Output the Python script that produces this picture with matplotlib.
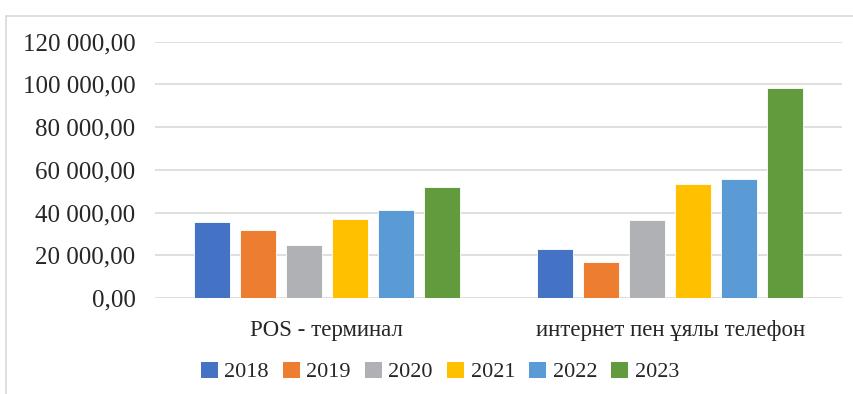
import matplotlib
matplotlib.use("Agg")
import matplotlib.pyplot as plt
from matplotlib.lines import Line2D
from matplotlib.patches import Patch
from matplotlib.ticker import FuncFormatter
import numpy as np

categories = ["POS - терминал", "интернет пен ұялы телефон"]
years = ["2018", "2019", "2020", "2021", "2022", "2023"]
values = {
    "2018": [35500, 23000],
    "2019": [31900, 17000],
    "2020": [24800, 36400],
    "2021": [37100, 53100],
    "2022": [41000, 55700],
    "2023": [52000, 98100],
}
colors = ["#4472C4", "#ED7D31", "#B0B1B4", "#FFC000", "#5B9BD5", "#629B3E"]
yticks = [0, 20000, 40000, 60000, 80000, 100000, 120000]

plt.rcParams["font.family"] = ["Liberation Serif", "DejaVu Serif"]

W, H = 854, 394
fig = plt.figure(figsize=(W / 100, H / 100), dpi=100)
ax = fig.add_axes([155 / W, 1 - 298 / H, (842 - 155) / W, (298 - 41.5) / H])

x = np.arange(len(categories))
bw = 0.1054
pitch = 0.134
for i, (yr, c) in enumerate(zip(years, colors)):
    ax.bar(x + (i - 2.5) * pitch, values[yr], width=bw, color=c,
           edgecolor="white", linewidth=0.6, zorder=3)

ax.set_xlim(-0.5, 1.5)
ax.set_ylim(0, 120000)
ax.set_yticks(yticks)


def fmt(v, _):
    s = f"{v:,.2f}"
    return s.replace(",", " ").replace(".", ",")


ax.yaxis.set_major_formatter(FuncFormatter(fmt))
ax.set_xticks(x)
ax.set_xticklabels(categories)
ax.tick_params(axis="y", length=0, pad=14, labelsize=18, labelcolor="#262626")
ax.tick_params(axis="x", length=0, pad=16, labelsize=16.5, labelcolor="#262626")
ax.grid(axis="y", color="#D9D9D9", linewidth=1.2, zorder=0)
for s in ax.spines.values():
    s.set_visible(False)

handles = [Patch(facecolor=c, edgecolor="none") for c in colors]
fig.legend(handles, years, loc="center", bbox_to_anchor=(440 / W, 1 - 372 / H),
           ncol=6, frameon=False, fontsize=16, handlelength=0.75, handleheight=0.75,
           handletextpad=0.3, columnspacing=0.64, labelcolor="#262626")

# outer chart frame
fig.add_artist(Line2D([6 / W, 1], [1 - 16 / H, 1 - 16 / H], color="#D9D9D9", lw=1.2))
fig.add_artist(Line2D([6 / W, 6 / W], [0, 1 - 16 / H], color="#D9D9D9", lw=1.2))

fig.savefig("out.png", dpi=100)
